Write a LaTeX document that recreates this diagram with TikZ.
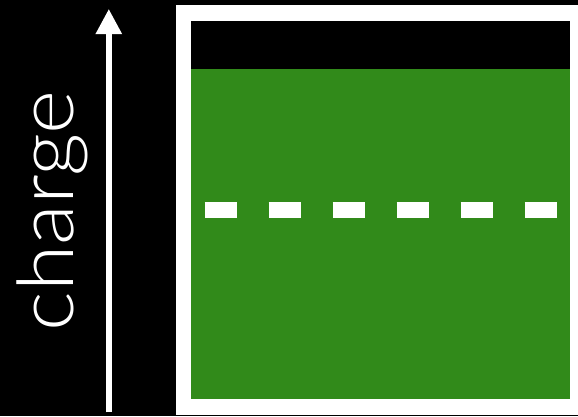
\documentclass[tikz,border=0pt]{standalone}
\usepackage{fontspec}
\setmainfont{Lato}[UprightFont=* Light]
\usetikzlibrary{arrows.meta}
\definecolor{boxgreen}{RGB}{49,138,26}
\begin{document}
\begin{tikzpicture}[x=1pt,y=-1pt,
  dashline/.style={white,line width=15.4pt,dash pattern=on 32pt off 32pt},
  axis/.style={white,line width=5.5pt,-{Triangle[length=25pt,width=25pt]}}]
\fill[black] (0,0) rectangle (578,416);
\useasboundingbox (0,0) rectangle (578,416);
% frame
\fill[white] (175.5,5) rectangle (578,415);
\fill[black] (191.3,21) rectangle (570.3,69);
\fill[boxgreen] (191.3,69) rectangle (570.3,399.3);
% dashed line
\coordinate (d1) at (204.5,210);
\coordinate (d2) at (557,210);
\draw[dashline] (d1) -- (d2);
% arrow
\coordinate (a0) at (108.8,412.3);
\coordinate (a1) at (108.8,9);
\draw[axis] (a0) -- (a1);
% label
\node[white,rotate=90,anchor=base,inner sep=0pt,font=\fontsize{78pt}{80pt}\selectfont] (lbl) at (73,211) {\scalebox{1.08}[1]{charge}};
\end{tikzpicture}
\end{document}
